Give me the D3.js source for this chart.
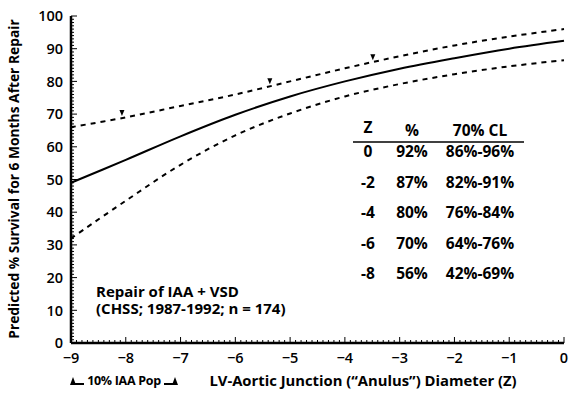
<!DOCTYPE html>
<html>
<head>
<meta charset="utf-8">
<script src="https://cdn.jsdelivr.net/npm/d3@7"></script>
<style>
  body { margin: 0; background: #fff; }
  svg { display: block; font-family: "Open Sans", sans-serif; }
</style>
</head>
<body>
<svg width="580" height="394"></svg>
<script>
"use strict";

// Data
const zValues = [-9, -8, -7, -6, -5, -4, -3, -2, -1, 0];
const survival = [49, 56, 63.2, 69.8, 75.4, 80, 83.9, 87.1, 90, 92.4];
const upperCL = [66, 69, 72.5, 76, 80, 84, 87.7, 91, 93.7, 96];
const lowerCL = [32, 43.5, 54.5, 63.5, 70.2, 75.4, 79.2, 82.2, 84.6, 86.5];
const markerZ = [-8.07, -5.37, -3.49];

const xTicks = [-9, -8, -7, -6, -5, -4, -3, -2, -1, 0];
const yTicks = [0, 10, 20, 30, 40, 50, 60, 70, 80, 90, 100];

const tableHead = ["Z", "%", "70% CL"];
const tableZ = ["0", "-2", "-4", "-6", "-8"];
const tablePct = ["92%", "87%", "80%", "70%", "56%"];
const tableCL = ["86%-96%", "82%-91%", "76%-84%", "64%-76%", "42%-69%"];

// Sizes
const margin = { l: 71, r: 16, t: 16, b: 51 };
const width = 580 - margin.l - margin.r;
const height = 394 - margin.t - margin.b;

const svg = d3.select("svg")
  .append("g")
    .attr("transform", `translate(${margin.l}, ${margin.t})`);

// Scales
const xScale = d3.scaleLinear().domain([-9, 0]).range([0, width]);
const yScale = d3.scaleLinear().domain([0, 100]).range([height, 0]);

// Minor ticks (every 0.1 on x, every 1 on y), pointing inward
const minorX = d3.range(-90, 1);
const minorY = d3.range(0, 101);

svg.append("g")
  .selectAll("line")
  .data(minorX)
  .join("line")
    .attr("x1", d => xScale(d / 10))
    .attr("x2", d => xScale(d / 10))
    .attr("y1", height)
    .attr("y2", d => height - (d % 10 === 0 ? 6 : 3))
    .attr("stroke", "#000")
    .attr("stroke-width", 1);

svg.append("g")
  .selectAll("line")
  .data(minorY)
  .join("line")
    .attr("x1", 0)
    .attr("x2", d => d % 10 === 0 ? 6 : 3)
    .attr("y1", d => yScale(d))
    .attr("y2", d => yScale(d))
    .attr("stroke", "#000")
    .attr("stroke-width", 1);

// Axis lines
svg.append("line")
  .attr("x1", 0).attr("x2", 0)
  .attr("y1", yScale(0)).attr("y2", yScale(100))
  .attr("stroke", "#000").attr("stroke-width", 2.5);

svg.append("line")
  .attr("x1", 0).attr("x2", xScale(0))
  .attr("y1", height).attr("y2", height)
  .attr("stroke", "#000").attr("stroke-width", 2.5);

// Tick labels
svg.append("g")
  .selectAll("text")
  .data(yTicks)
  .join("text")
    .attr("x", -8)
    .attr("y", d => yScale(d))
    .attr("dy", "0.36em")
    .attr("text-anchor", "end")
    .attr("font-size", 14.5)
    .attr("font-weight", 600)
    .text(d => d);

svg.append("g")
  .selectAll("text")
  .data(xTicks)
  .join("text")
    .attr("x", d => xScale(d))
    .attr("y", height + 20)
    .attr("text-anchor", "middle")
    .attr("font-size", 14.5)
    .attr("font-weight", 600)
    .text(d => d === 0 ? "0" : "\u2212" + Math.abs(d));

// Axis titles
svg.append("text")
  .attr("transform", `translate(${19 - margin.l}, ${179 - margin.t}) rotate(-90)`)
  .attr("text-anchor", "middle")
  .attr("font-size", 13.8)
  .attr("font-weight", 700)
  .text("Predicted % Survival for 6 Months After Repair");

svg.append("text")
  .attr("x", 363 - margin.l)
  .attr("y", 386 - margin.t)
  .attr("text-anchor", "middle")
  .attr("font-size", 14.8)
  .attr("font-weight", 700)
  .text("LV-Aortic Junction (\u201CAnulus\u201D) Diameter (Z)");

// 10% IAA Pop bracket
const pop = svg.append("g").attr("transform", `translate(0, ${384 - margin.t})`);
pop.append("line").attr("x1", 2).attr("x2", 13).attr("y1", 0).attr("y2", 0)
  .attr("stroke", "#000").attr("stroke-width", 2);
pop.append("line").attr("x1", 93).attr("x2", 104).attr("y1", 0).attr("y2", 0)
  .attr("stroke", "#000").attr("stroke-width", 2);
pop.selectAll("path")
  .data([2, 104])
  .join("path")
    .attr("d", d => `M${d - 3},1 L${d},-7 L${d + 3},1 Z`)
    .attr("fill", "#000");
pop.append("text")
  .attr("x", 53)
  .attr("y", 1)
  .attr("text-anchor", "middle")
  .attr("font-size", 12.5)
  .attr("font-weight", 700)
  .attr("letter-spacing", -0.3)
  .text("10% IAA Pop");

// Lines
const line = d3.line()
  .x((d, i) => xScale(zValues[i]))
  .y(d => yScale(d))
  .curve(d3.curveCatmullRom);

svg.append("path")
  .attr("d", line(survival))
  .attr("fill", "none")
  .attr("stroke", "#000")
  .attr("stroke-width", 2);

[upperCL, lowerCL].forEach(series => {
  svg.append("path")
    .attr("d", line(series))
    .attr("fill", "none")
    .attr("stroke", "#000")
    .attr("stroke-width", 2)
    .attr("stroke-dasharray", "5,5");
});

// Markers on the upper limit
const upperAt = d3.scaleLinear().domain(zValues).range(upperCL);
svg.append("g")
  .selectAll("path")
  .data(markerZ)
  .join("path")
    .attr("transform", d => `translate(${xScale(d)}, ${yScale(upperAt(d)) - 2})`)
    .attr("d", "M-2.5,-6 L2.5,-6 L0,0 Z")
    .attr("fill", "#000");

// Annotation
const note = svg.append("text")
  .attr("font-size", 15)
  .attr("font-weight", 700);
note.append("tspan").attr("x", 96 - margin.l).attr("y", 297 - margin.t).text("Repair of IAA + VSD");
note.append("tspan").attr("x", 96 - margin.l).attr("y", 314 - margin.t).text("(CHSS; 1987-1992; n = 174)");

// Table
const colX = [368 - margin.l, 412 - margin.l, 480 - margin.l];
const table = svg.append("g").attr("font-size", 15.5).attr("font-weight", 700).attr("text-anchor", "middle");
table.selectAll("text.head")
  .data(tableHead)
  .join("text")
    .attr("class", "head")
    .attr("x", (d, i) => colX[i])
    .attr("y", (d, i) => (i === 0 ? 133 : 136) - margin.t)
    .text(d => d);

table.append("line")
  .attr("x1", 353 - margin.l).attr("x2", 524 - margin.l)
  .attr("y1", 142 - margin.t).attr("y2", 142 - margin.t)
  .attr("stroke", "#000").attr("stroke-width", 1.5);

const rowY = d3.scalePoint().domain(tableZ).range([157 - margin.t, 279 - margin.t]);
[tableZ, tablePct, tableCL].forEach((col, ci) => {
  table.append("g")
    .selectAll("text")
    .data(col)
    .join("text")
      .attr("x", colX[ci])
      .attr("y", (d, i) => rowY(tableZ[i]))
      .text(d => d);
});
</script>
</body>
</html>
